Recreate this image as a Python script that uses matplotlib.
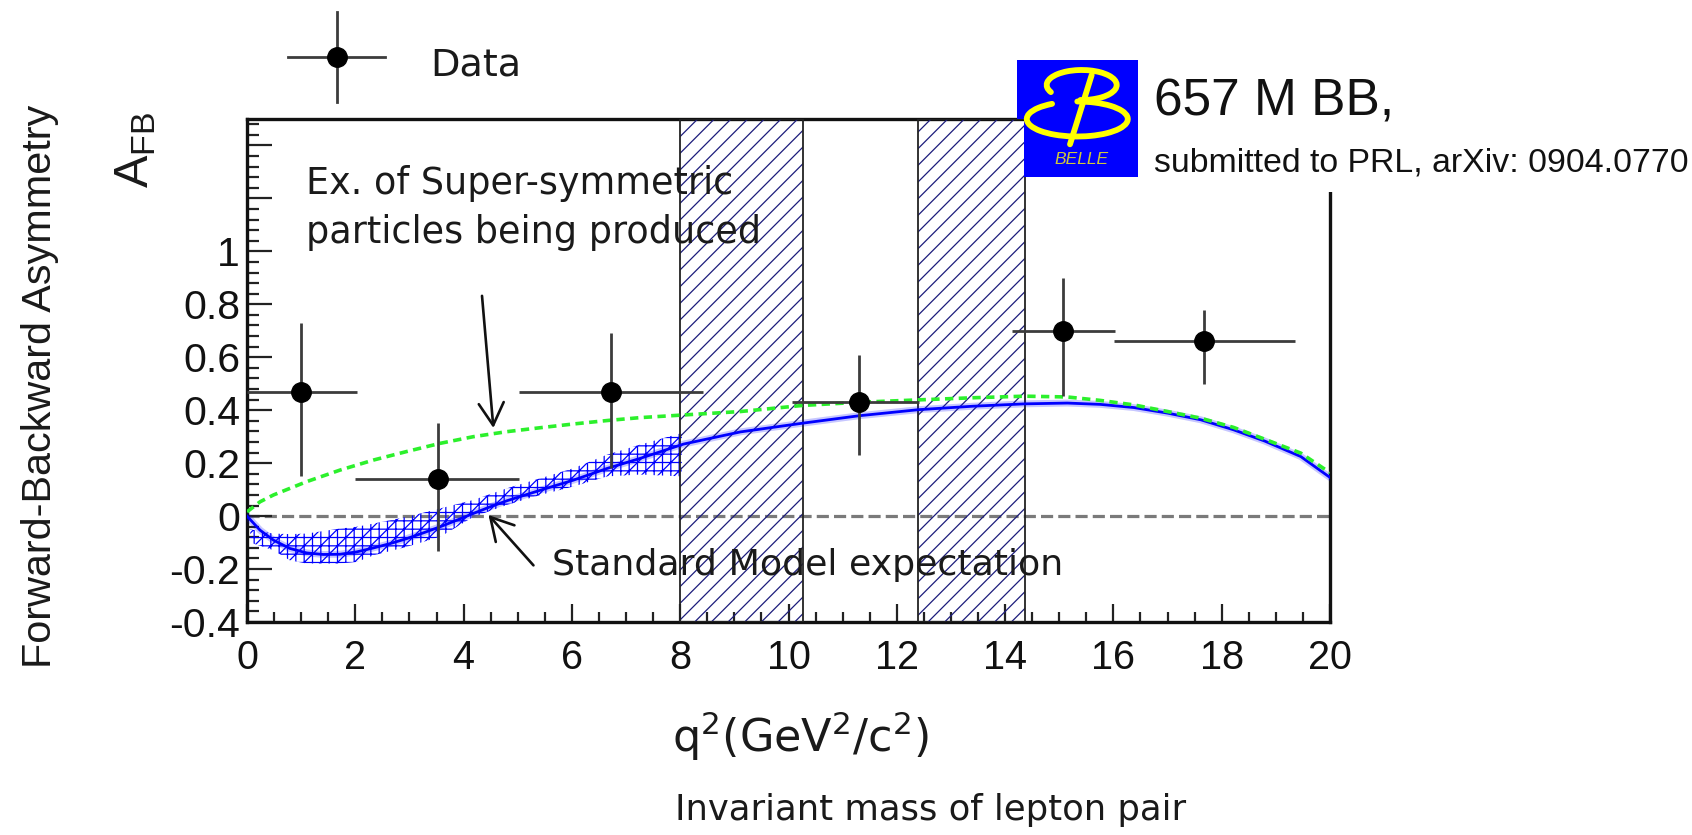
import numpy as np
import matplotlib
matplotlib.use("Agg")
import matplotlib.pyplot as plt
from matplotlib.patches import Polygon, Arc, Rectangle
from matplotlib.ticker import MultipleLocator, FuncFormatter
from matplotlib import font_manager as fm

# ---------------- data ----------------
q2_center = [1.00, 3.52, 6.73, 11.30, 15.07, 17.68]
q2_low = [0.00, 2.00, 5.02, 10.06, 14.13, 16.02]
q2_high = [2.03, 5.02, 8.43, 12.41, 16.03, 19.35]
afb = [0.47, 0.14, 0.47, 0.43, 0.70, 0.66]
afb_err_up = [0.26, 0.21, 0.22, 0.18, 0.20, 0.12]
afb_err_dn = [0.32, 0.27, 0.29, 0.20, 0.245, 0.16]

sm_q2 = [0.0, 0.24, 0.49, 0.79, 1.10, 1.41, 1.72, 2.03, 2.34, 2.64, 2.95, 3.26,
         3.57, 3.88, 4.18, 4.49, 4.80, 5.42, 6.03, 6.65, 7.26, 8.06, 9.11, 10.26,
         11.30, 12.40, 13.40, 14.36, 15.15, 15.76, 16.38, 17.00, 17.61, 18.22,
         18.80, 19.46, 20.0]
sm_afb = [0.0, -0.053, -0.091, -0.122, -0.139, -0.145, -0.144, -0.135, -0.120,
          -0.104, -0.085, -0.063, -0.040, -0.015, 0.010, 0.035, 0.058, 0.098,
          0.136, 0.180, 0.218, 0.272, 0.318, 0.351, 0.379, 0.402, 0.415, 0.424,
          0.427, 0.422, 0.410, 0.389, 0.364, 0.326, 0.283, 0.225, 0.146]

susy_q2 = [0.0, 0.24, 0.49, 1.10, 1.72, 2.34, 2.95, 3.57, 4.18, 4.80, 5.42, 6.03,
           6.65, 7.26, 8.06, 9.11, 10.26, 11.30, 12.40, 13.40, 14.36, 15.15,
           15.76, 16.38, 17.00, 17.61, 18.22, 18.80, 19.46, 20.0]
susy_afb = [0.016, 0.054, 0.080, 0.130, 0.174, 0.212, 0.244, 0.275, 0.300, 0.319,
            0.334, 0.348, 0.361, 0.372, 0.382, 0.395, 0.418, 0.430, 0.439, 0.447,
            0.453, 0.450, 0.437, 0.420, 0.395, 0.370, 0.335, 0.290, 0.238, 0.164]

band_q2 = [0.06, 0.49, 0.79, 1.10, 1.72, 2.03, 2.34, 2.95, 3.57, 4.18, 4.80,
           5.42, 6.03, 6.65, 7.26, 8.03]
band_lo = [-0.100, -0.129, -0.167, -0.179, -0.179, -0.173, -0.148, -0.116,
           -0.078, -0.003, 0.042, 0.080, 0.112, 0.150, 0.157, 0.150]
band_hi = [-0.050, -0.066, -0.068, -0.066, -0.047, -0.040, -0.028, -0.003,
           0.029, 0.061, 0.105, 0.143, 0.181, 0.232, 0.270, 0.314]

veto_lo = [8.00, 12.40]
veto_hi = [10.26, 14.36]

x_ticks = [0, 2, 4, 6, 8, 10, 12, 14, 16, 18, 20]
y_tick_labels = {-0.4: "-0.4", -0.2: "-0.2", 0.0: "0", 0.2: "0.2", 0.4: "0.4",
                 0.6: "0.6", 0.8: "0.8", 1.0: "1"}

# ---------------- fonts ----------------
names = {f.name for f in fm.fontManager.ttflist}
LIB = "Liberation Sans"
NARROW = "Liberation Sans Narrow" if "Liberation Sans Narrow" in names else None
plt.rcParams["font.family"] = ["DejaVu Sans"]
plt.rcParams["hatch.linewidth"] = 0.9

TXT = "#1a1a1a"

W, H = 1692, 835
fig = plt.figure(figsize=(W / 100, H / 100), dpi=100)
fig.patch.set_facecolor("white")

L, R, T, B = 247, 1330, 119, 622
ax = fig.add_axes([L / W, 1 - B / H, (R - L) / W, (B - T) / H])
ax.set_xlim(0, 20)
ax.set_ylim(-0.4, 1.5)

for s in ax.spines.values():
    s.set_linewidth(2.4)
    s.set_color("#111111")

ax.xaxis.set_major_locator(MultipleLocator(2))
ax.xaxis.set_minor_locator(MultipleLocator(0.5))
ax.yaxis.set_major_locator(MultipleLocator(0.2))
ax.yaxis.set_minor_locator(MultipleLocator(0.04))


def yfmt(v, p):
    for k, lab in y_tick_labels.items():
        if abs(v - k) < 1e-6:
            return lab
    return ""


def xfmt(v, p):
    for t in x_ticks:
        if abs(v - t) < 1e-6:
            return str(t)
    return ""


ax.yaxis.set_major_formatter(FuncFormatter(yfmt))
ax.xaxis.set_major_formatter(FuncFormatter(xfmt))
ax.tick_params(which="both", direction="in", top=False, right=False,
               width=1.6, color="#222222", labelcolor="#111111")
ax.tick_params(axis="y", which="major", length=18, pad=5, labelsize=29.5)
ax.tick_params(axis="y", which="minor", length=8.5)
ax.tick_params(axis="x", which="major", length=13, pad=12, labelsize=28.5)
ax.tick_params(axis="x", which="minor", length=7)
for lab in ax.get_xticklabels() + ax.get_yticklabels():
    lab.set_family(LIB)

# zero line
ax.axhline(0, color="#7a7a7a", lw=2.3, dashes=(3.8, 1.6), zorder=1.5)

# SM uncertainty band
ax.fill_between(band_q2, band_lo, band_hi, facecolor="none", edgecolor="#0000ff",
                hatch="++//", lw=0, zorder=3)

# veto regions
for a, b in zip(veto_lo, veto_hi):
    ax.axvspan(a, b, facecolor="none", edgecolor="#1c1c7c", hatch="//", lw=0,
               zorder=3.5)
    ax.axvspan(a, b, fill=False, edgecolor="#222222", lw=1.3, zorder=3.6)

# curves
ax.plot(sm_q2, sm_afb, color="#0000ff", lw=5, alpha=0.22, zorder=4,
        solid_capstyle="round")
ax.plot(sm_q2, sm_afb, color="#0000ff", lw=2.0, zorder=4.1)
ax.plot(susy_q2, susy_afb, color="#2cf02c", lw=2.6, dashes=(2.3, 1.5), zorder=4.5)

# data
xc = np.array(q2_center)
ax.errorbar(q2_center, afb,
            xerr=[xc - np.array(q2_low), np.array(q2_high) - xc],
            yerr=[afb_err_dn, afb_err_up],
            fmt="o", color="black", ms=14, ecolor="#3c3c3c", elinewidth=2.0,
            capsize=0, zorder=6)

# arrows
ap = dict(arrowstyle="->,head_length=0.8,head_width=0.45", lw=1.9,
          color="#111111", shrinkA=0, shrinkB=0, mutation_scale=20)
ax.annotate("", xy=(4.55, 0.333), xytext=(4.34, 0.832), arrowprops=ap, zorder=7)
ax.annotate("", xy=(4.46, 0.004), xytext=(5.29, -0.186), arrowprops=ap, zorder=7)

# ---------------- overlay in pixel coordinates ----------------
ov = fig.add_axes([0, 0, 1, 1], zorder=10)
ov.set_xlim(0, W)
ov.set_ylim(H, 0)
ov.axis("off")
ov.patch.set_visible(False)

# annotations
ov.text(306, 193.6, "Ex. of Super-symmetric", fontsize=26.3, color=TXT,
        ha="left", va="baseline")
ov.text(306, 242.9, "particles being produced", fontsize=26.3, color=TXT,
        ha="left", va="baseline")
ov.text(551.7, 575, "Standard Model expectation", fontsize=26.2, color=TXT,
        ha="left", va="baseline", zorder=5)

# legend
ov.plot([288, 385], [56.7, 56.7], color="#3c3c3c", lw=2.0)
ov.plot([336.7, 336.7], [11.7, 101.7], color="#3c3c3c", lw=2.0)
ov.plot([336.7], [56.7], "o", color="black", ms=14)
ov.text(430, 75, "Data", fontsize=27.5, color=TXT, ha="left", va="baseline")

# axis titles
ov.text(801, 752, r"$\mathregular{q^{2}(GeV^{2}/c^{2})}$", fontsize=32,
        color=TXT, ha="center", va="baseline")
ov.text(675, 820, "Invariant mass of lepton pair", fontsize=25.5, color=TXT,
        ha="left", va="baseline")
ov.text(40, 386, "Forward-Backward Asymmetry", fontsize=29.8, family=LIB,
        color=TXT, rotation=90, ha="center", va="center")
ov.text(136, 150, r"$\mathregular{A_{FB}}$", fontsize=35, family=LIB, color=TXT,
        rotation=90, ha="center", va="center")

# logo + caption block (covers top-right of the frame)
ov.add_patch(Rectangle((1138, 40), W - 1138, 152, facecolor="white",
                       edgecolor="none", zorder=1))
ov.add_patch(Polygon([(1017.3, 60), (1138.3, 60), (1138.3, 176.7), (1024, 176.7),
                      (1024, 118.5), (1017.3, 118.5)], closed=True,
                     facecolor="#0000ff", edgecolor="none", zorder=2))
YEL = "#ffff00"
ov.add_patch(Arc((1081.7, 85), 70, 30, theta1=167, theta2=95, color=YEL,
                 lw=4.2, zorder=3, capstyle="round"))
ov.add_patch(Arc((1077.3, 119), 101, 35, theta1=270, theta2=211, color=YEL,
                 lw=4.2, zorder=3, capstyle="round"))
ov.plot([1091.7, 1070], [75, 144.3], color=YEL, lw=4.2, zorder=3,
        solid_capstyle="round")
if NARROW:
    ov.text(1081.7, 160, "BELLE", fontsize=15, family=NARROW, style="italic",
            color="#d0c83a", ha="center", va="center", zorder=3)
    ov.text(1154.5, 115, "657 M BB,", fontsize=43, family=NARROW,
            color="#111111", ha="left", va="baseline", zorder=3)
else:
    ov.text(1081.7, 160, "BELLE", fontsize=12.5, family=LIB, style="italic",
            color="#d0c83a", ha="center", va="center", zorder=3)
    ov.text(1154.5, 115, "657 M BB,", fontsize=37, family=LIB,
            color="#111111", ha="left", va="baseline", zorder=3)
ov.text(1154.5, 171.7, "submitted to PRL, arXiv: 0904.0770", fontsize=24.4,
        family=LIB, color="#111111", ha="left", va="baseline", zorder=3)

fig.savefig("out.png", dpi=100, facecolor="white")
